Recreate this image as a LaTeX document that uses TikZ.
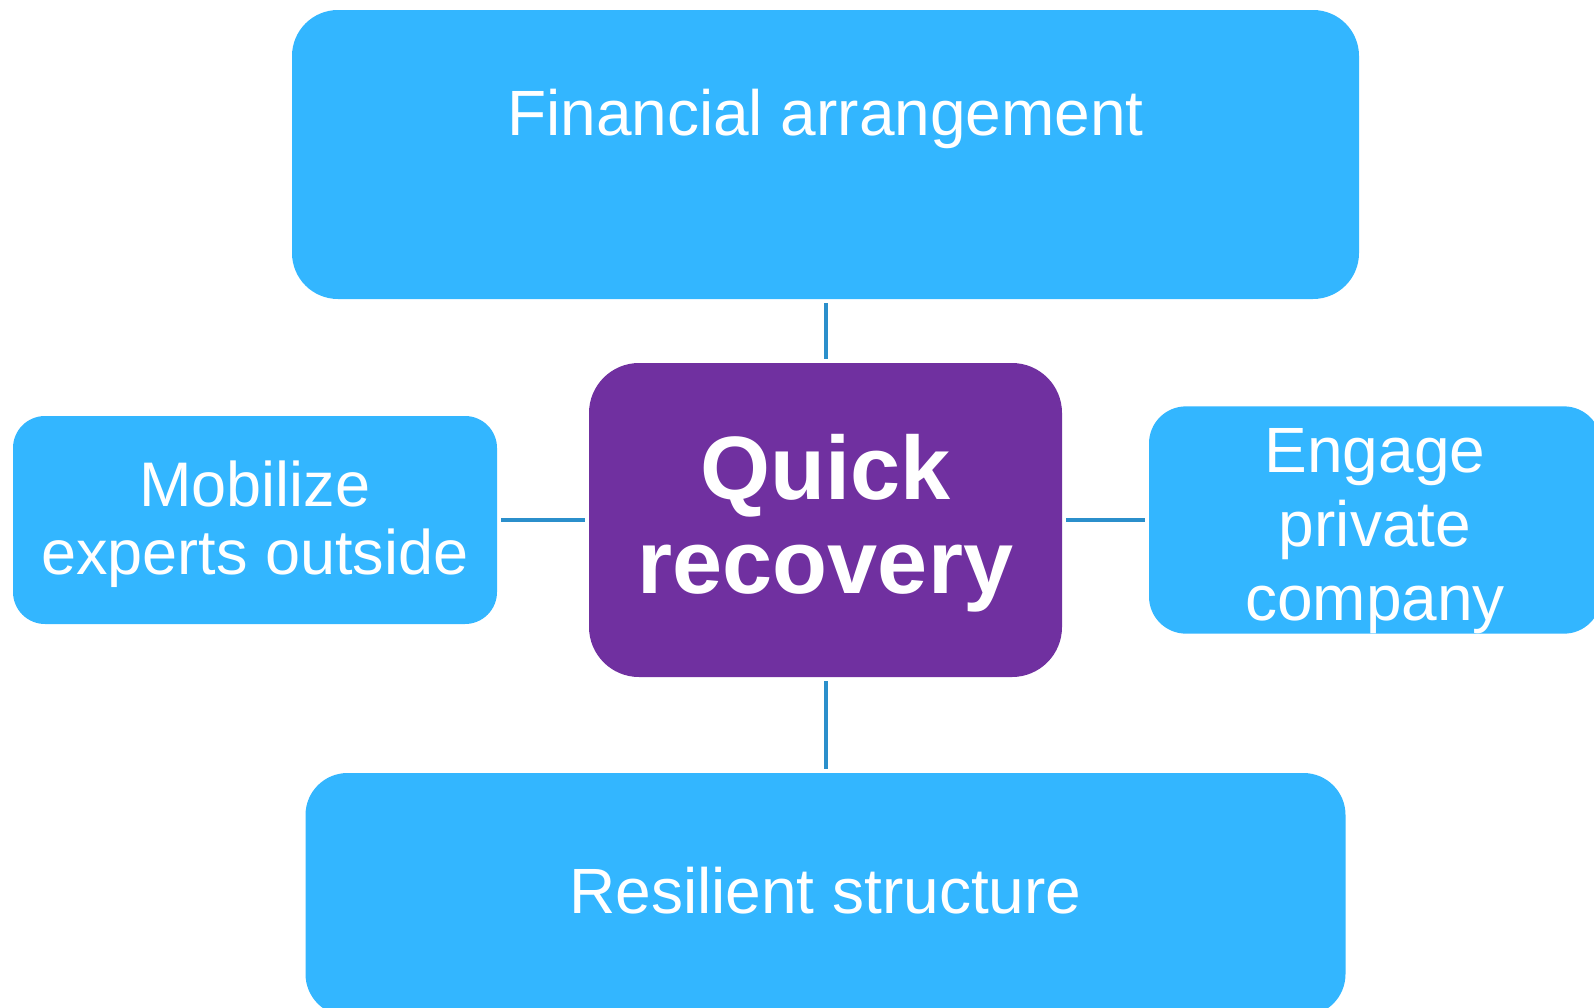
\documentclass[tikz,border=0pt]{standalone}
\usepackage{fontspec}
\setmainfont{Liberation Sans}
\usetikzlibrary{positioning}
\definecolor{boxblue}{HTML}{33B6FF}
\definecolor{corepurple}{HTML}{7030A0}
\definecolor{linkblue}{HTML}{2B8FCB}
\newcommand{\lift}[1]{\rule{0pt}{#1}}

\begin{document}
\begin{tikzpicture}[x=0.5pt,y=-0.5pt,
      every node/.style={rectangle,text=white,inner sep=0pt,align=center},
      goal/.style={fill=boxblue,font=\fontsize{32}{37}\selectfont},
      core/.style={fill=corepurple,rounded corners=25pt,
                   font=\bfseries\fontsize{45}{47}\selectfont},
      link/.style={draw=linkblue,line width=2pt,shorten <=2pt,shorten >=2pt},
    ]
      \clip (0,0) rectangle (1594,1007);
      \useasboundingbox (0,0) rectangle (1594,1007);
      \node[goal,rounded corners=23pt,minimum width=533.5pt,
            text height=62.5pt,text depth=82pt] (finance) at (825.5,154.5)
            {Financial arrangement};
      \node[core,minimum width=236.5pt,minimum height=157pt] (recovery) at (825.5,520)
            {\lift{36.3pt}Quick\\recovery};
      \node[goal,rounded corners=16pt,minimum width=242pt,minimum height=104pt,
            font=\fontsize{31.5}{34}\selectfont] (experts) at (255,520)
            {\lift{26.6pt}Mobilize\\experts outside};
      \node[goal,rounded corners=18.5pt,minimum width=226pt,minimum height=112pt]
            (company) at (1375,520) {\lift{33pt}Engage\\private\\company};
      \node[goal,rounded corners=21pt,minimum width=520pt,
            text height=70pt,text depth=51.5pt] (structure) at (825.5,894.5)
            {Resilient structure};
      \path (finance) edge[link] (recovery);
      \path (experts) edge[link] (recovery);
      \path (recovery) edge[link] (company);
      \path (recovery) edge[link] (structure);
    \end{tikzpicture}
\end{document}
